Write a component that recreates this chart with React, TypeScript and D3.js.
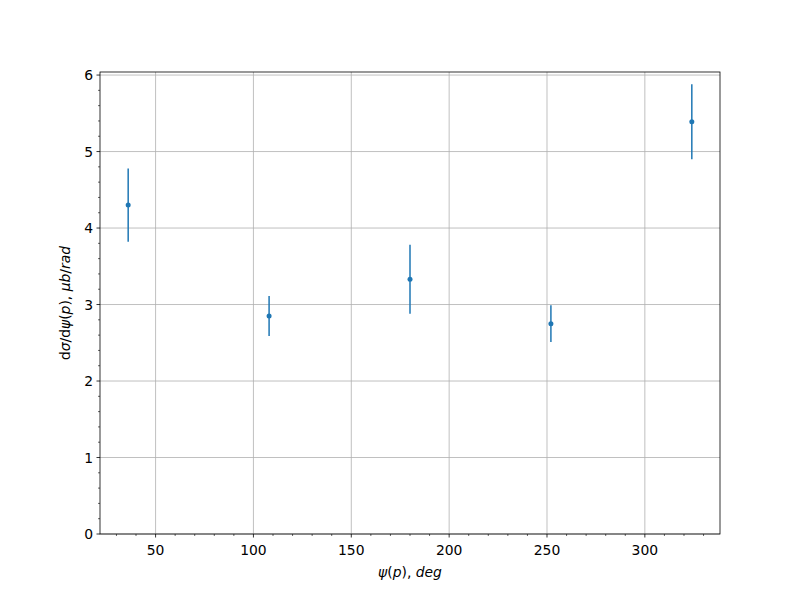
import React from "react";
import * as d3 from "d3";

const psiDeg = [36, 108, 180, 252, 324];
const dsigma = [4.30, 2.85, 3.33, 2.75, 5.39];
const errors = [0.48, 0.26, 0.45, 0.24, 0.49];
const xTicks = [50, 100, 150, 200, 250, 300];
const yTicks = [0, 1, 2, 3, 4, 5, 6];

const W = 800, H = 600;
const L = 100, R = 720, T = 72, B = 534;
const color = "#1f77b4";
const font = "DejaVu Sans, sans-serif";

export default function App() {
  const x = d3.scaleLinear().domain([21.6, 338.4]).range([L, R]);
  const y = d3.scaleLinear().domain([0, 6.04]).range([B, T]);
  const xMinor = d3.range(30, 340, 10).filter((v) => v % 50 !== 0 && v >= 21.6 && v <= 338.4);
  const yMinor = d3.range(0, 6.05, 0.2).map((v) => +v.toFixed(1)).filter((v) => Math.abs(v - Math.round(v)) > 1e-6);
  return (
    <svg width={W} height={H} style={{ display: "block", position: "absolute", left: 0, top: 0 }}>
      <rect x={0} y={0} width={W} height={H} fill="white" />
      {xTicks.map((t) => (
        <line key={"gx" + t} x1={x(t)} x2={x(t)} y1={T} y2={B} stroke="#b0b0b0" strokeWidth={0.8} />
      ))}
      {yTicks.map((t) => (
        <line key={"gy" + t} x1={L} x2={R} y1={y(t)} y2={y(t)} stroke="#b0b0b0" strokeWidth={0.8} />
      ))}
      {psiDeg.map((v, i) => (
        <g key={"p" + i}>
          <line x1={x(v)} x2={x(v)} y1={y(dsigma[i] - errors[i])} y2={y(dsigma[i] + errors[i])} stroke={color} strokeWidth={1.5} />
          <circle cx={x(v)} cy={y(dsigma[i])} r={2.5} fill={color} />
        </g>
      ))}
      <rect x={L} y={T} width={R - L} height={B - T} fill="none" stroke="black" strokeWidth={0.8} />
      {xTicks.map((t) => (
        <g key={"tx" + t}>
          <line x1={x(t)} x2={x(t)} y1={B} y2={B + 3.5} stroke="black" strokeWidth={0.8} />
          <text x={x(t)} y={B + 17} textAnchor="middle" fontFamily={font} fontSize={13.9} dominantBaseline="middle">{t}</text>
        </g>
      ))}
      {xMinor.map((t) => (
        <line key={"mx" + t} x1={x(t)} x2={x(t)} y1={B} y2={B + 2} stroke="black" strokeWidth={0.6} />
      ))}
      {yTicks.map((t) => (
        <g key={"ty" + t}>
          <line x1={L} x2={L - 3.5} y1={y(t)} y2={y(t)} stroke="black" strokeWidth={0.8} />
          <text x={L - 7} y={y(t)} textAnchor="end" fontFamily={font} fontSize={13.9} dominantBaseline="central">{t}</text>
        </g>
      ))}
      {yMinor.map((t) => (
        <line key={"my" + t} x1={L} x2={L - 2} y1={y(t)} y2={y(t)} stroke="black" strokeWidth={0.6} />
      ))}
      <text x={(L + R) / 2} y={577} textAnchor="middle" fontFamily={font} fontSize={13.9}>
        <tspan fontStyle="italic">ψ</tspan><tspan>(</tspan><tspan fontStyle="italic">p</tspan><tspan>), </tspan><tspan fontStyle="italic">deg</tspan>
      </text>
      <text transform={`translate(70, ${(T + B) / 2}) rotate(-90)`} textAnchor="middle" fontFamily={font} fontSize={13.9}>
        <tspan>d</tspan><tspan fontStyle="italic">σ</tspan><tspan>/d</tspan><tspan fontStyle="italic">ψ</tspan><tspan>(</tspan><tspan fontStyle="italic">p</tspan><tspan>), </tspan><tspan fontStyle="italic">μb</tspan><tspan>/</tspan><tspan fontStyle="italic">rad</tspan>
      </text>
    </svg>
  );
}
